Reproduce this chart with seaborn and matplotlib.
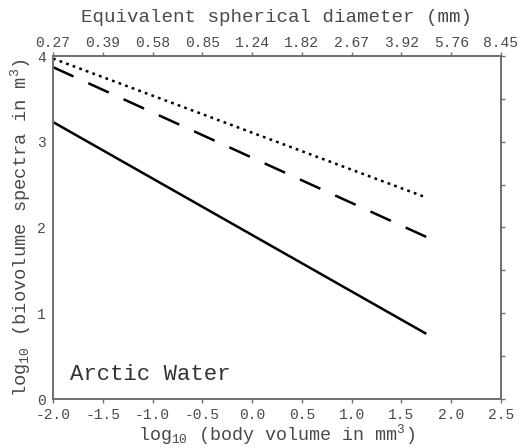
import matplotlib
matplotlib.use("Agg")
import matplotlib.pyplot as plt
import seaborn as sns
import pandas as pd

# Data
x_ends = [-2.0, 1.75]
solid_y = [3.23, 0.76]
dashed_y = [3.87, 1.89]
dotted_y = [3.97, 2.35]
bottom_ticks = [-2.0, -1.5, -1.0, -0.5, 0.0, 0.5, 1.0, 1.5, 2.0, 2.5]
bottom_labels = ["-2.0", "-1.5", "-1.0", "-0.5", "0.0", "0.5", "1.0", "1.5", "2.0", "2.5"]
top_labels = ["0.27", "0.39", "0.58", "0.85", "1.24", "1.82", "2.67", "3.92", "5.76", "8.45"]
y_ticks = [0, 1, 2, 3, 4]
y_minor = [0.5, 1.5, 2.5, 3.5]

sns.set_style("white")
plt.rcParams['font.family'] = ['Liberation Mono', 'DejaVu Sans Mono']
plt.rcParams['mathtext.fontset'] = 'custom'
plt.rcParams['mathtext.rm'] = 'Liberation Mono'
plt.rcParams['mathtext.it'] = 'Liberation Mono'
plt.rcParams['axes.unicode_minus'] = False

df = pd.concat([
    pd.DataFrame({"x": x_ends, "y": solid_y, "s": "solid"}),
    pd.DataFrame({"x": x_ends, "y": dashed_y, "s": "dashed"}),
    pd.DataFrame({"x": x_ends, "y": dotted_y, "s": "dotted"}),
])

fig = plt.figure(figsize=(5.22, 4.48), dpi=100)
ax = fig.add_axes([53 / 522, 1 - 399 / 448, 448 / 522, 343 / 448])

styles = {"solid": (0, ()), "dashed": (0, (9.0, 6.5)), "dotted": (0, (1.1, 1.7))}
for name, ls in styles.items():
    sub = df[df["s"] == name]
    sns.lineplot(data=sub, x="x", y="y", ax=ax, color="black", lw=1.8,
                 linestyle="-", legend=False)
    ax.lines[-1].set_linestyle(ls)
    ax.lines[-1].set_dash_capstyle("butt")

ax.set_xlim(-2.0, 2.5)
ax.set_ylim(0, 4)
grey = "#707070"
tick_col = "#4a4a4a"
ax.set_xticks(bottom_ticks)
ax.set_xticklabels(bottom_labels)
ax.set_yticks(y_ticks)
ax.set_yticks(y_minor, minor=True)
ax.tick_params(axis="both", which="both", direction="out", length=3, width=1,
               color=grey, labelsize=10.5, labelcolor=tick_col, pad=2)
ax.tick_params(axis="x", pad=3.5)
ax.tick_params(right=True, which="both")
for sp in ax.spines.values():
    sp.set_color(grey)
    sp.set_linewidth(1.3)

ax.set_xlabel(r"log$_{10}$ (body volume in mm$^3$)", fontsize=13.2, color=tick_col)
ax.xaxis.set_label_coords(0.5, -0.068)
ax.set_ylabel(r"log$_{10}$ (biovolume spectra in m$^3$)", fontsize=13.5, color=tick_col)
ax.yaxis.set_label_coords(-0.045, 0.5)

ax2 = ax.twiny()
ax2.set_xlim(ax.get_xlim())
ax2.set_xticks(bottom_ticks)
ax2.set_xticklabels(top_labels)
ax2.tick_params(axis="x", direction="out", length=3, width=1, color=grey,
                labelsize=10.5, labelcolor=tick_col, pad=1)
for sp in ax2.spines.values():
    sp.set_color(grey)
    sp.set_linewidth(1.3)
ax2.set_xlabel("Equivalent spherical diameter (mm)", fontsize=13.8, color=tick_col)
ax2.xaxis.set_label_coords(0.5, 1.1)

ax.text(-1.83, 0.28, "Arctic Water", fontsize=16, color="#333333", va="center", ha="left")

fig.savefig("out.png", dpi=100)
